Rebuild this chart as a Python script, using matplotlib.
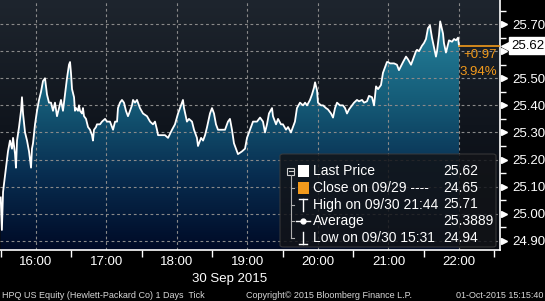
import matplotlib
matplotlib.use("Agg")
import matplotlib.pyplot as plt
import numpy as np
from matplotlib.colors import LinearSegmentedColormap
from matplotlib.patches import FancyBboxPatch, Rectangle
from matplotlib.lines import Line2D

plt.rcParams['font.family'] = ['Liberation Sans', 'DejaVu Sans']

# minutes after 15:30 on 30 Sep 2015, and last price
minutes = [
    0.0, 1.0, 2.0, 2.8, 4.5, 6.2, 7.9, 9.6, 10.5, 12.2,
    13.0, 13.9, 15.6, 17.3, 18.1, 19.0, 20.7, 22.4, 24.1, 25.8,
    26.6, 27.5, 29.2, 30.9, 32.6, 34.3, 36.0, 37.7, 39.4, 41.1,
    42.8, 44.5, 46.2, 47.9, 49.6, 51.3, 53.0, 54.7, 56.4, 58.1,
    59.0, 59.8, 60.7, 62.4, 63.2, 64.1, 65.8, 66.6, 67.5, 69.2,
    70.0, 70.9, 72.6, 74.3, 76.0, 77.7, 78.5, 79.4, 81.1, 81.9,
    84.5, 86.2, 88.8, 90.5, 93.0, 94.7, 95.6, 97.3, 99.0, 99.8,
    101.5, 103.2, 104.9, 106.6, 108.3, 109.2, 111.7, 112.6, 114.3, 116.0,
    118.5, 121.1, 124.5, 127.1, 129.6, 131.3, 133.0, 133.9, 137.3, 139.8,
    142.4, 145.8, 148.3, 150.9, 153.4, 155.1, 156.0, 158.5, 160.2, 162.8,
    164.5, 167.0, 167.9, 170.5, 172.2, 173.9, 175.6, 178.1, 179.8, 181.5,
    183.2, 184.9, 188.3, 190.9, 193.4, 195.1, 196.8, 198.5, 201.1, 201.9,
    205.3, 207.9, 209.6, 212.2, 214.7, 218.1, 220.7, 223.2, 224.9, 226.6,
    228.3, 230.9, 231.7, 234.3, 236.0, 238.5, 240.2, 242.8, 244.5, 247.0,
    248.7, 250.4, 252.1, 254.7, 257.3, 259.0, 260.7, 263.2, 264.9, 266.6,
    267.5, 269.2, 270.0, 272.6, 274.3, 276.8, 278.5, 281.1, 282.8, 284.5,
    286.2, 288.7, 291.3, 293.0, 294.7, 296.4, 299.0, 300.7, 303.2, 304.9,
    307.5, 309.2, 311.7, 313.4, 316.0, 317.7, 319.4, 321.1, 323.6, 325.3,
    327.0, 328.7, 329.6, 331.3, 333.0, 334.7, 337.2, 338.9, 340.6, 342.4,
    344.9, 346.6, 349.2, 350.9, 353.4, 354.3, 356.0, 358.5, 360.2, 361.9,
    363.6, 365.3, 367.0, 368.7, 370.4, 371.3, 373.0, 374.0, 376.4, 377.2,
    378.9, 379.8, 381.5, 384.1, 385.8, 387.5, 389.2, 390.0,
]
prices = [
    25.06, 24.94, 25.08, 25.11, 25.17, 25.23, 25.27, 25.24, 25.28, 25.22,
    25.17, 25.27, 25.32, 25.38, 25.43, 25.37, 25.30, 25.27, 25.23, 25.17,
    25.24, 25.26, 25.33, 25.38, 25.42, 25.45, 25.49, 25.50, 25.44, 25.41,
    25.41, 25.38, 25.41, 25.36, 25.39, 25.42, 25.38, 25.44, 25.50, 25.55,
    25.56, 25.52, 25.46, 25.43, 25.38, 25.39, 25.38, 25.40, 25.38, 25.37,
    25.39, 25.36, 25.35, 25.32, 25.31, 25.29, 25.27, 25.31, 25.32, 25.33,
    25.33, 25.34, 25.35, 25.34, 25.34, 25.32, 25.31, 25.34, 25.34, 25.39,
    25.41, 25.42, 25.41, 25.38, 25.36, 25.37, 25.40, 25.42, 25.41, 25.42,
    25.39, 25.37, 25.36, 25.34, 25.33, 25.34, 25.31, 25.29, 25.29, 25.29,
    25.28, 25.31, 25.33, 25.37, 25.40, 25.42, 25.39, 25.34, 25.35, 25.34,
    25.31, 25.28, 25.25, 25.28, 25.27, 25.29, 25.32, 25.37, 25.39, 25.37,
    25.33, 25.31, 25.31, 25.31, 25.34, 25.35, 25.31, 25.26, 25.23, 25.22,
    25.23, 25.24, 25.28, 25.31, 25.34, 25.34, 25.355, 25.34, 25.30, 25.33,
    25.37, 25.39, 25.36, 25.33, 25.35, 25.33, 25.33, 25.31, 25.32, 25.30,
    25.32, 25.34, 25.39, 25.41, 25.40, 25.41, 25.40, 25.42, 25.44, 25.465,
    25.485, 25.455, 25.41, 25.40, 25.40, 25.39, 25.385, 25.37, 25.355, 25.39,
    25.41, 25.40, 25.40, 25.39, 25.37, 25.385, 25.40, 25.41, 25.42, 25.415,
    25.42, 25.41, 25.415, 25.435, 25.43, 25.40, 25.47, 25.46, 25.475, 25.52,
    25.54, 25.56, 25.56, 25.555, 25.555, 25.555, 25.55, 25.53, 25.545, 25.56,
    25.58, 25.57, 25.55, 25.57, 25.60, 25.605, 25.60, 25.62, 25.63, 25.645,
    25.685, 25.695, 25.65, 25.615, 25.58, 25.60, 25.66, 25.71, 25.665, 25.63,
    25.595, 25.61, 25.64, 25.635, 25.645, 25.64, 25.65, 25.62,
]

price_ticks = [24.90, 25.00, 25.10, 25.20, 25.30, 25.40, 25.50, 25.60, 25.70]
# 25.60 sits under the last-price tag, so its label is not shown
price_labels = ["24.90", "25.00", "25.10", "25.20", "25.30", "25.40",
                "25.50", "", "25.70"]
hour_ticks = [30, 90, 150, 210, 270, 330, 390]
hour_labels = ["16:00", "17:00", "18:00", "19:00", "20:00", "21:00", "22:00"]
half_hour_ticks = [0, 60, 120, 180, 240, 300, 360, 420]

legend_labels = ["Last Price", "Close on 09/29 ----", "High on 09/30 21:44",
                 "Average", "Low on 09/30 15:31"]
legend_values = ["25.62", "24.65", "25.71", "25.3889", "24.94"]
change_abs = "+0.97"
change_pct = "3.94%"

W, H = 545, 301
ORANGE = '#f29a1c'


def fx(x):
    return x / W


def fy(y):
    return 1 - y / H


fig = plt.figure(figsize=(W / 100, H / 100), dpi=100, facecolor='black')
ax = fig.add_axes([0, 51 / H, 500 / W, 250 / H])

xmin, xmax = -0.6, 424.9
ymin, ymax = 24.866, 25.789
ax.set_xlim(xmin, xmax)
ax.set_ylim(ymin, ymax)

# background gradient of the plot area
bg_cmap = LinearSegmentedColormap.from_list(
    "bg", ['#060910', '#10151d', '#1e252e'])
grad = np.linspace(0, 1, 256).reshape(-1, 1)
ax.imshow(grad, extent=[xmin, xmax, ymin, ymax], origin='lower',
          aspect='auto', cmap=bg_cmap, zorder=0)

# teal gradient under the price line
fill_cmap = LinearSegmentedColormap.from_list(
    "fill", [(0.0, '#000a26'), (0.3, '#082d50'),
             (0.6, '#155c78'), (1.0, '#2a8ca6')])
im = ax.imshow(grad, extent=[xmin, xmax, ymin, ymax], origin='lower',
               aspect='auto', cmap=fill_cmap, zorder=1)
fill = ax.fill_between(minutes, prices, ymin, facecolor='none',
                       edgecolor='none')
im.set_clip_path(fill.get_paths()[0], transform=ax.transData)

# dashed grid
for p in price_ticks:
    ax.axhline(p, color='#8a8a8a', lw=0.8, ls=(0, (2.5, 2.5)), zorder=2)
for m in hour_ticks:
    ax.axvline(m, color='#8a8a8a', lw=0.8, ls=(0, (2.5, 2.5)), zorder=2)

ax.plot(minutes, prices, color='white', lw=1.3, zorder=3)

# last price marker line
last = prices[-1]
ax.plot([minutes[-1], xmax], [last, last], color=ORANGE, lw=1.2, zorder=4)
ytr = ax.get_yaxis_transform()
ax.text(0.994, last - 0.012, change_abs, transform=ytr, ha='right',
        va='top', color=ORANGE, fontsize=9.5, zorder=5)
ax.text(0.994, last - 0.074, change_pct, transform=ytr, ha='right',
        va='top', color=ORANGE, fontsize=9.5, zorder=5)

# axes styling
for side in ['left', 'top']:
    ax.spines[side].set_visible(False)
for side in ['right', 'bottom']:
    ax.spines[side].set_color('white')
    ax.spines[side].set_linewidth(1.2)

ax.yaxis.tick_right()
ax.set_yticks(price_ticks)
ax.set_yticklabels(price_labels)
minor_y = [p + 0.05 for p in price_ticks[:-1]] + [25.75]
ax.set_yticks([m for m in minor_y if ymin < m < ymax], minor=True)
ax.tick_params(axis='y', which='major', length=0, pad=9,
               labelsize=9.5, labelcolor='white')
ax.tick_params(axis='y', which='minor', length=4, width=1,
               color='white', direction='out')

ax.set_xticks(hour_ticks)
ax.set_xticklabels(hour_labels)
ax.set_xticks(half_hour_ticks, minor=True)
ax.tick_params(axis='x', which='major', length=0, pad=4,
               labelsize=9.5, labelcolor='white')
ax.tick_params(axis='x', which='minor', length=5, width=1,
               color='white', direction='out')

ax.plot([1.009] * len(price_ticks), price_ticks, ls='none', marker='>',
        ms=5, color='white', transform=ytr, clip_on=False, zorder=6)

# last price tag on the axis
ax.plot([1.012], [last], ls='none', marker='<', ms=7, color='white',
        transform=ytr, clip_on=False, zorder=9)
ax.text(1.022, last, "%.2f" % last, transform=ytr, ha='left', va='center',
        color='black', fontsize=9.5, zorder=10,
        bbox=dict(boxstyle='square,pad=0.18', fc='white', ec='white'))

# date and footer
fig.text(fx(230), fy(279), "30 Sep 2015", ha='center', va='center',
         color='white', fontsize=9.5)
fig.text(fx(2), fy(296), "HPQ US Equity (Hewlett-Packard Co) 1 Days  Tick",
         ha='left', va='center', color='#d8d8d8', fontsize=6.5)
fig.text(fx(246), fy(296), "Copyright\u00a9 2015 Bloomberg Finance L.P.",
         ha='left', va='center', color='#d8d8d8', fontsize=6.5)
fig.text(fx(543), fy(296), "01-Oct-2015 15:15:40",
         ha='right', va='center', color='#d8d8d8', fontsize=6.5)

# legend box
box = FancyBboxPatch((fx(280), fy(247)), fx(496) - fx(280), fy(154) - fy(247),
                     boxstyle='round,pad=0,rounding_size=0.006',
                     transform=fig.transFigure, fc='#121418', ec='#3c3c3c',
                     lw=0.8, alpha=0.85, zorder=5)
fig.add_artist(box)

rows_y = [171, 188, 204.5, 221, 238]
for label, value, y in zip(legend_labels, legend_values, rows_y):
    fig.text(fx(313), fy(y), label, ha='left', va='center', color='white',
             fontsize=10, zorder=7)
    fig.text(fx(443), fy(y), value, ha='left', va='center', color='white',
             fontsize=10, zorder=7)


def fig_line(xs, ys, **kw):
    fig.add_artist(Line2D([fx(x) for x in xs], [fy(y) for y in ys],
                          transform=fig.transFigure, zorder=7, **kw))


# tree guide
fig.add_artist(Rectangle((fx(287), fy(174.5)), 7 / W, 7 / H,
                         transform=fig.transFigure, fc='none', ec='#d0d0d0',
                         lw=0.8, zorder=7))
fig_line([288.5, 292.5], [171, 171], color='#d0d0d0', lw=0.8)
fig_line([290.5, 290.5], [175, 238], color='#b0b0b0', lw=0.8)
for y in rows_y[1:]:
    fig_line([290.5, 294], [y, y], color='#b0b0b0', lw=0.8)

# series icons
fig.add_artist(Rectangle((fx(298), fy(177)), 11 / W, 12 / H,
                         transform=fig.transFigure, fc='white', ec='none',
                         zorder=7))
fig.add_artist(Rectangle((fx(298), fy(194)), 11 / W, 12 / H,
                         transform=fig.transFigure, fc=ORANGE, ec='none',
                         zorder=7))
fig_line([299, 307], [198.5, 198.5], color='white', lw=1)
fig_line([303, 303], [198.5, 210.5], color='white', lw=1)
fig_line([296, 310], [221, 221], color='white', lw=1)
fig.add_artist(Line2D([fx(303)], [fy(221)], transform=fig.transFigure,
                      marker='o', ms=3.5, color='white', zorder=8))
fig_line([303, 303], [232, 243.5], color='white', lw=1)
fig_line([299, 307], [243.5, 243.5], color='white', lw=1)

fig.savefig("out.png", dpi=100, facecolor='black')
